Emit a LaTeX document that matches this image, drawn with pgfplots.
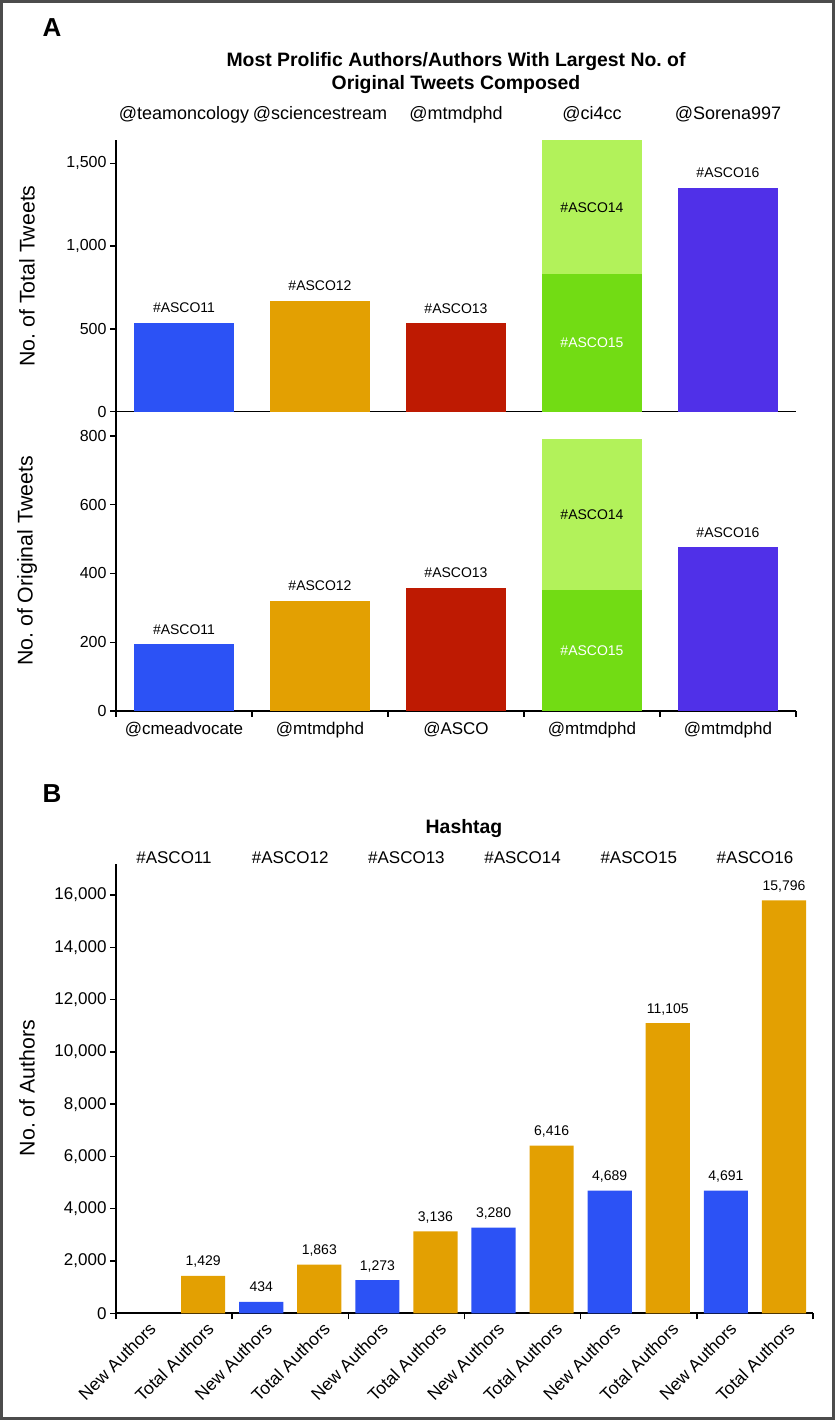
\documentclass[border=0pt]{standalone}
\usepackage{fontspec}
\setmainfont{Liberation Sans}
\usepackage{pgfplots}
\pgfplotsset{compat=1.18}
\definecolor{cblue}{RGB}{44,82,245}
\definecolor{corange}{RGB}{227,160,2}
\definecolor{cred}{RGB}{190,26,2}
\definecolor{clgreen}{RGB}{178,242,90}
\definecolor{cgreen}{RGB}{114,220,20}
\definecolor{cpurple}{RGB}{80,48,232}
\newcommand{\fs}[1]{\fontsize{#1}{#1}\selectfont}
\frenchspacing
\begin{document}
\begin{tikzpicture}
\useasboundingbox (0pt,0pt) rectangle (835pt,1420pt);
\draw[line width=3pt, black!70] (1.5pt,1.5pt) rectangle (833.5pt,1418.5pt);
\pgfplotsset{
  base/.style={scale only axis, anchor=south west, clip=false,
    axis x line*=bottom, axis y line*=left,
    axis line style={line width=1.6pt},
    tick align=outside, major tick length=6pt,
    tick style={line width=1.4pt,black},
    /pgf/number format/assume math mode=true,
    /pgf/number format/1000 sep={,},
    scaled y ticks=false,
    y tick label style={font=\fs{16}},
  },
  mybar/.style={ybar, bar shift=0pt, draw=none, fill=#1},
}
% ---------------- Panel A top ----------------
\begin{axis}[base, at={(116pt,1008.3pt)}, width=680pt, height=271.7pt,
  xmin=-0.5, xmax=4.5, ymin=0, ymax=1641,
  xtick=\empty, ytick={0,500,1000,1500}]
\addplot[mybar=cblue, bar width=0.74] coordinates {(0,537)};
\addplot[mybar=corange, bar width=0.74] coordinates {(1,670)};
\addplot[mybar=cred, bar width=0.74] coordinates {(2,535)};
\addplot[mybar=clgreen, bar width=0.74] coordinates {(3,1641)};
\addplot[mybar=cgreen, bar width=0.74] coordinates {(3,829)};
\addplot[mybar=cpurple, bar width=0.74] coordinates {(4,1351)};
\node[font=\fs{14}, anchor=base, yshift=10pt] at (axis cs:0,537) {\#ASCO11};
\node[font=\fs{14}, anchor=base, yshift=10pt] at (axis cs:1,670) {\#ASCO12};
\node[font=\fs{14}, anchor=base, yshift=10pt] at (axis cs:2,535) {\#ASCO13};
\node[font=\fs{14}] at (axis cs:3,1235) {\#ASCO14};
\node[font=\fs{14}, text=white] at (axis cs:3,414.5) {\#ASCO15};
\node[font=\fs{14}, anchor=base, yshift=10pt] at (axis cs:4,1351) {\#ASCO16};
\end{axis}
% ---------------- Panel A bottom ----------------
\begin{axis}[base, at={(116pt,709pt)}, width=680pt, height=299.3pt,
  xmin=-0.5, xmax=4.5, ymin=0, ymax=870.7,
  ytick={0,200,400,600,800},
  xtick={0,1,2,3,4},
  xticklabels={@cmeadvocate,@mtmdphd,@ASCO,@mtmdphd,@mtmdphd},
  x tick label style={font=\fs{17}, yshift=-2pt},
  xtick style={draw=none},
  extra x ticks={-0.5,0.5,1.5,2.5,3.5,4.5},
  extra x tick labels={},
  extra x tick style={xtick style={draw=black}}]
\addplot[mybar=cblue, bar width=0.74] coordinates {(0,194)};
\addplot[mybar=corange, bar width=0.74] coordinates {(1,320)};
\addplot[mybar=cred, bar width=0.74] coordinates {(2,358)};
\addplot[mybar=clgreen, bar width=0.74] coordinates {(3,791)};
\addplot[mybar=cgreen, bar width=0.74] coordinates {(3,352)};
\addplot[mybar=cpurple, bar width=0.74] coordinates {(4,477)};
\node[font=\fs{14}, anchor=base, yshift=10pt] at (axis cs:0,194) {\#ASCO11};
\node[font=\fs{14}, anchor=base, yshift=10pt] at (axis cs:1,320) {\#ASCO12};
\node[font=\fs{14}, anchor=base, yshift=10pt] at (axis cs:2,358) {\#ASCO13};
\node[font=\fs{14}] at (axis cs:3,571.5) {\#ASCO14};
\node[font=\fs{14}, text=white] at (axis cs:3,176) {\#ASCO15};
\node[font=\fs{14}, anchor=base, yshift=10pt] at (axis cs:4,477) {\#ASCO16};
\end{axis}
% ---------------- Panel B ----------------
\begin{axis}[base, at={(116pt,106.7pt)}, width=697pt, height=449.3pt,
  xmin=-0.5, xmax=11.5, ymin=0, ymax=17190,
  ytick={0,2000,4000,6000,8000,10000,12000,14000,16000},
  y tick label style={font=\fs{17}},
  xtick={0,...,11},
  xticklabels={New Authors,Total Authors,New Authors,Total Authors,New Authors,Total Authors,New Authors,Total Authors,New Authors,Total Authors,New Authors,Total Authors},
  x tick label style={font=\fs{17.5}, rotate=45, anchor=north east, xshift=4pt},
  xtick style={draw=none},
  extra x ticks={-0.5,1.5,3.5,5.5,7.5,9.5,11.5},
  extra x tick labels={},
  extra x tick style={xtick style={draw=black}},
  nodes near coords,
  every node near coord/.append style={font=\fs{14}, anchor=base, yshift=10pt}]
\addplot[mybar=cblue, bar width=0.76] coordinates {(2,434) (4,1273) (6,3280) (8,4689) (10,4691)};
\addplot[mybar=corange, bar width=0.76] coordinates {(1,1429) (3,1863) (5,3136) (7,6416) (9,11105) (11,15796)};
\end{axis}
% ---------------- texts ----------------
\node[font=\bfseries\fs{26}, anchor=base west] at (39pt,1383pt) {A};
\node[font=\bfseries\fs{19.4}, anchor=base] at (456pt,1353pt) {Most Prolific Authors/Authors With Largest No. of};
\node[font=\bfseries\fs{19.4}, anchor=base] at (456pt,1330pt) {Original Tweets Composed};
\foreach \t [count=\i from 0] in {@teamoncology,@sciencestream,@mtmdphd,@ci4cc,@Sorena997}
  \node[font=\fs{18}, anchor=base] at ({184pt+136pt*\i},1300pt) {\t};
\node[font=\fs{21.3}, rotate=90] at (27pt,1144pt) {No. of Total Tweets};
\node[font=\fs{21.3}, rotate=90] at (27pt,859pt) {No. of Original Tweets};
\node[font=\bfseries\fs{26}, anchor=base west] at (39pt,617pt) {B};
\node[font=\bfseries\fs{19.4}, anchor=base] at (464pt,586pt) {Hashtag};
\foreach \t [count=\i from 0] in {\#ASCO11,\#ASCO12,\#ASCO13,\#ASCO14,\#ASCO15,\#ASCO16}
  \node[font=\fs{17}, anchor=base] at ({174pt+116.2pt*\i},556pt) {\t};
\node[font=\fs{21.3}, rotate=90] at (27pt,332pt) {No. of Authors};
\end{tikzpicture}
\end{document}
